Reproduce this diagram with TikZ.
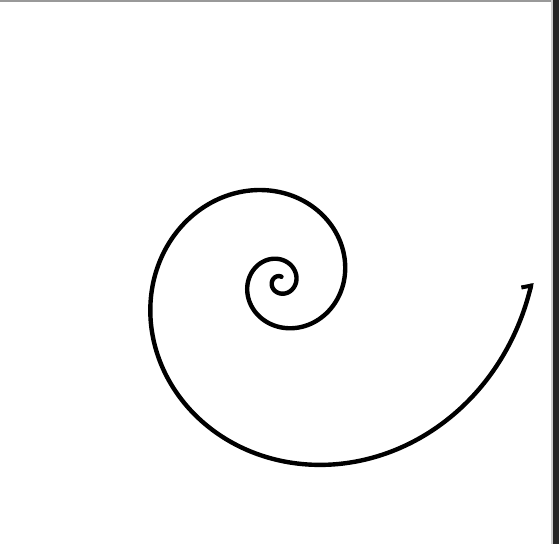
\documentclass[tikz,border=0pt]{standalone}
\usetikzlibrary{arrows.meta}
\begin{document}
\begin{tikzpicture}[x=1bp,y=1bp]
\useasboundingbox (0,0) rectangle (559,544);
\fill[white] (0,0) rectangle (559,544);
% frame artifacts
\fill[black!40] (0,542) rectangle (552,544);
\fill[black!20] (551,0) rectangle (553,544);
\fill[black!85] (553,0) rectangle (559,544);
% spiral
\draw[line width=4.4bp, line cap=round, line join=round,
  -{Straight Barb[left,length=4bp,width=18bp,line width=4bp]},
  domain=-11.27:6.283, samples=500, variable=\t, smooth]
  plot ({280 + 63.7*exp(0.2188*\t)*cos(\t r)}, {262 + 63.7*exp(0.2188*\t)*sin(\t r)});
\end{tikzpicture}
\end{document}
